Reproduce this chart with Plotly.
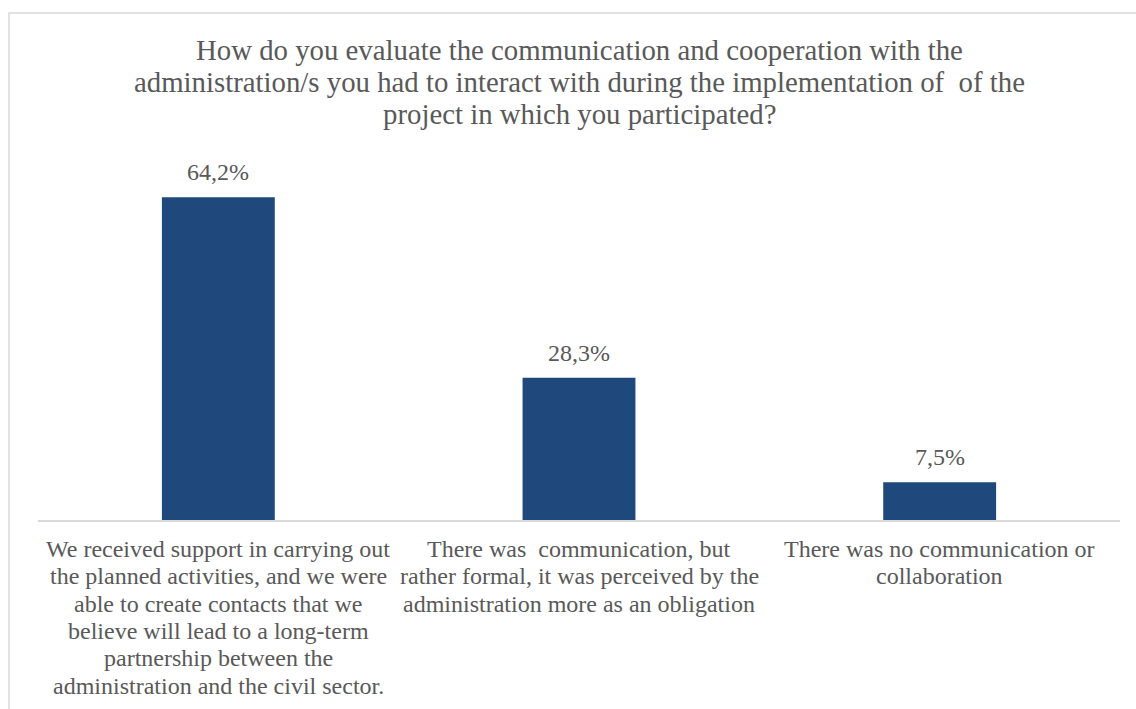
import plotly.graph_objects as go

# Category labels, one list of wrapped lines per bar
category_lines = [
    ["We received support in carrying out",
     "the planned activities, and we were",
     "able to create contacts that we",
     "believe will lead to a long-term",
     "partnership between the",
     "administration and the civil sector."],
    ["There was  communication, but",
     "rather formal, it was perceived by the",
     "administration more as an obligation"],
    ["There was no communication or",
     "collaboration"],
]
shares = [64.2, 28.3, 7.5]
value_labels = [f"{v:.1f}%".replace(".", ",") for v in shares]

title_lines = [
    "How do you evaluate the communication and cooperation with the",
    "administration/s you had to interact with during the implementation of  of the",
    "project in which you participated?",
]

FONT = "Liberation Serif, Times New Roman, serif"
GREY = "#595959"
BAR = "#1F497D"

x_idx = list(range(len(category_lines)))

fig = go.Figure(go.Bar(
    x=x_idx, y=shares,
    marker=dict(color=BAR, line=dict(width=0)),
    hoverinfo="skip",
))

annotations = []
# value labels above the bars
for i, v, t in zip(x_idx, shares, value_labels):
    annotations.append(dict(
        x=i, y=v, xref="x", yref="y", text=t, showarrow=False,
        yanchor="bottom", yshift=10,
        font=dict(family=FONT, size=24, color=GREY)))

# category labels under the axis, line by line (tight Office-style leading)
for i, lines in zip(x_idx, category_lines):
    for k, line in enumerate(lines):
        annotations.append(dict(
            x=i, xref="x", y=0, yref="paper", text=line, showarrow=False,
            yanchor="middle", yshift=-(29 + 27.3 * k),
            font=dict(family=FONT, size=24, color=GREY)))

# chart title
for k, line in enumerate(title_lines):
    annotations.append(dict(
        x=0.5, xref="paper", y=1, yref="paper", text=line, showarrow=False,
        yanchor="middle", yshift=118 - 32 * k,
        font=dict(family=FONT, size=28.8, color=GREY)))

fig.update_layout(
    width=1136, height=709,
    margin=dict(l=38, r=16, t=168, b=189),
    paper_bgcolor="white", plot_bgcolor="white",
    bargap=0.687,
    showlegend=False,
    annotations=annotations,
    shapes=[dict(type="rect", xref="paper", yref="paper",
                 x0=-0.0268, x1=1.2, y0=-1.0, y1=1.4403,
                 line=dict(color="#D9D9D9", width=1.5), layer="below")],
    xaxis=dict(
        range=[-0.5, 2.5], showline=True, linecolor="#D9D9D9", linewidth=1.5,
        showgrid=False, zeroline=False, ticks="", showticklabels=False,
    ),
    yaxis=dict(range=[0, 70], visible=False, showgrid=False, zeroline=False),
)

fig.write_html("out.html")
